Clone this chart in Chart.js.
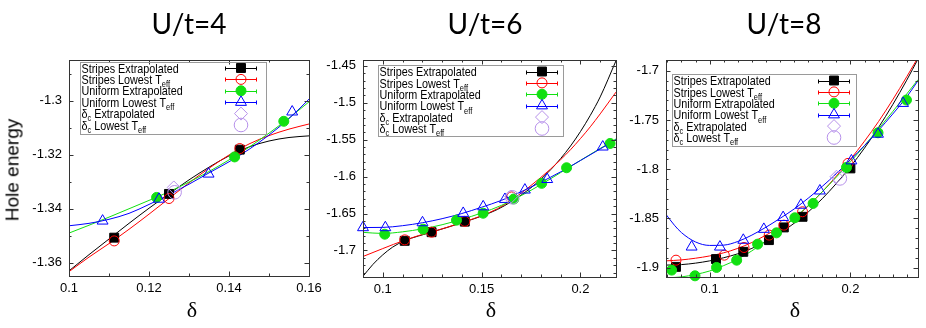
<!DOCTYPE html>
<html><head><meta charset="utf-8">
<script src="https://cdn.jsdelivr.net/npm/chart.js@4.4.1/dist/chart.umd.min.js"></script>
<style>
html,body{margin:0;padding:0;background:#fff;}
#wrap{position:relative;width:926px;height:328px;overflow:hidden;background:#fff;}
#wrap canvas{position:absolute;left:0;top:0;}
.lbl{position:absolute;white-space:nowrap;line-height:1;transform:translate(-50%,-50%);color:#000;}
.title{font-family:Lato,'Open Sans',sans-serif;font-size:28px;}
.delta{font-family:'Liberation Serif','Times New Roman',serif;font-size:22px;}
.ylab{font-family:'Liberation Sans',Arial,sans-serif;font-size:19px;transform:translate(-50%,-50%) rotate(-90deg);}
</style></head>
<body><div id="wrap">
<canvas id="p1" width="926" height="328"></canvas>
<canvas id="p2" width="926" height="328"></canvas>
<canvas id="p3" width="926" height="328"></canvas>
<div class="lbl title" style="left:189px;top:23px">U/t=4</div>
<div class="lbl title" style="left:485px;top:23px">U/t=6</div>
<div class="lbl title" style="left:784px;top:23px">U/t=8</div>
<div class="lbl ylab" style="left:12px;top:170px">Hole energy</div>
<div class="lbl delta" style="left:192px;top:310px">δ</div>
<div class="lbl delta" style="left:491px;top:310px">δ</div>
<div class="lbl delta" style="left:795px;top:310px">δ</div>
</div>
<script>
// ================= DATA =================
// ---- U/t=4 ----
const u4XTicks = [0.1, 0.12, 0.14, 0.16];
const u4XTickLabels = ['0.1', '0.12', '0.14', '0.16'];
const u4YTicks = [-1.3, -1.32, -1.34, -1.36];
const u4YTickLabels = ['-1.3', '-1.32', '-1.34', '-1.36'];
const u4StripesExt = [[0.1113,-1.3508],[0.1250,-1.3346],[0.1427,-1.3182]];
const u4StripesLow = [[0.1113,-1.3520],[0.1250,-1.3363],[0.1427,-1.3178]];
const u4UniformExt = [[0.1219,-1.3359],[0.1414,-1.3209],[0.1537,-1.3077]];
const u4UniformLow = [[0.1084,-1.3446],[0.1225,-1.3365],[0.1349,-1.3272],[0.1558,-1.3042]];
const u4DcExt = [[0.1262,-1.3322]];
const u4DcLow = [[0.1264,-1.3340]];
const u4StripesExtFit = [[0.100,-1.3631],[0.105,-1.3571],[0.110,-1.3513],[0.115,-1.3455],[0.120,-1.3399],[0.125,-1.3346],[0.130,-1.3294],[0.135,-1.3247],[0.140,-1.3205],[0.145,-1.3172],[0.150,-1.3150],[0.155,-1.3137],[0.160,-1.3131]];
const u4StripesLowFit = [[0.100,-1.3634],[0.105,-1.3580],[0.110,-1.3530],[0.115,-1.3477],[0.120,-1.3421],[0.125,-1.3363],[0.130,-1.3305],[0.135,-1.3251],[0.140,-1.3202],[0.145,-1.3161],[0.150,-1.3130],[0.155,-1.3106],[0.160,-1.3087]];
const u4UniformExtFit = [[0.100,-1.3491],[0.105,-1.3462],[0.110,-1.3432],[0.115,-1.3401],[0.120,-1.3370],[0.125,-1.3338],[0.130,-1.3302],[0.135,-1.3263],[0.140,-1.3220],[0.145,-1.3173],[0.150,-1.3121],[0.155,-1.3065],[0.160,-1.3005]];
const u4UniformLowFit = [[0.100,-1.3464],[0.105,-1.3455],[0.110,-1.3440],[0.115,-1.3418],[0.120,-1.3385],[0.125,-1.3349],[0.130,-1.3310],[0.135,-1.3268],[0.140,-1.3227],[0.145,-1.3181],[0.150,-1.3128],[0.155,-1.3067],[0.160,-1.2995]];

// ---- U/t=6 ----
const u6XTicks = [0.1, 0.15, 0.2];
const u6XTickLabels = ['0.1', '0.15', '0.2'];
const u6YTicks = [-1.45, -1.5, -1.55, -1.6, -1.65, -1.7];
const u6YTickLabels = ['-1.45', '-1.5', '-1.55', '-1.6', '-1.65', '-1.7'];
const u6StripesExt = [[0.1111,-1.6870],[0.1247,-1.6753],[0.1415,-1.6610]];
const u6StripesLow = [[0.1111,-1.6857],[0.1247,-1.6753],[0.1415,-1.6606],[0.1652,-1.6275]];
const u6UniformExt = [[0.1010,-1.6780],[0.1204,-1.6712],[0.1373,-1.6590],[0.1508,-1.6496],[0.1663,-1.6303],[0.1804,-1.6091],[0.1930,-1.5880],[0.2150,-1.5551]];
const u6UniformLow = [[0.0900,-1.6690],[0.1013,-1.6690],[0.1201,-1.6623],[0.1407,-1.6496],[0.1508,-1.6407],[0.1618,-1.6307],[0.1719,-1.6180],[0.1832,-1.6037],[0.2113,-1.5597]];
const u6DcExt = [[0.1650,-1.6270]];
const u6DcLow = [[0.1655,-1.6280]];
const u6StripesExtFit = [[0.090,-1.7350],[0.095,-1.7190],[0.100,-1.7060],[0.105,-1.6955],[0.111,-1.6868],[0.118,-1.6805],[0.125,-1.6750],[0.133,-1.6685],[0.1415,-1.6612],[0.150,-1.6535],[0.158,-1.6445],[0.165,-1.6340],[0.170,-1.6250],[0.175,-1.6150],[0.180,-1.6035],[0.185,-1.5905],[0.190,-1.5755],[0.195,-1.5585],[0.200,-1.5390],[0.205,-1.5170],[0.210,-1.4920],[0.218,-1.4430]];
const u6StripesLowFit = [[0.090,-1.7082],[0.100,-1.6975],[0.111,-1.6862],[0.118,-1.6800],[0.125,-1.6748],[0.133,-1.6683],[0.1415,-1.6610],[0.150,-1.6530],[0.158,-1.6435],[0.165,-1.6320],[0.170,-1.6225],[0.175,-1.6120],[0.180,-1.6010],[0.185,-1.5895],[0.190,-1.5770],[0.195,-1.5635],[0.200,-1.5485],[0.205,-1.5325],[0.210,-1.5150],[0.218,-1.4855]];
const u6UniformExtFit = [[0.090,-1.6755],[0.100,-1.6770],[0.110,-1.6748],[0.120,-1.6708],[0.130,-1.6652],[0.140,-1.6578],[0.150,-1.6493],[0.160,-1.6390],[0.170,-1.6258],[0.180,-1.6108],[0.190,-1.5945],[0.200,-1.5780],[0.210,-1.5618],[0.218,-1.5490]];
const u6UniformLowFit = [[0.090,-1.6690],[0.100,-1.6688],[0.110,-1.6665],[0.120,-1.6625],[0.130,-1.6570],[0.140,-1.6500],[0.150,-1.6415],[0.160,-1.6322],[0.170,-1.6205],[0.180,-1.6075],[0.190,-1.5935],[0.200,-1.5782],[0.210,-1.5625],[0.218,-1.5500]];

// ---- U/t=8 ----
const u8XTicks = [0.1, 0.2];
const u8XTickLabels = ['0.1', '0.2'];
const u8YTicks = [-1.7, -1.75, -1.8, -1.85, -1.9];
const u8YTickLabels = ['-1.7', '-1.75', '-1.8', '-1.85', '-1.9'];
const u8StripesExt = [[0.0761,-1.8993],[0.1045,-1.8914],[0.1239,-1.8840],[0.1421,-1.8721],[0.1527,-1.8592],[0.1660,-1.8484],[0.2000,-1.7992]];
const u8StripesLow = [[0.0761,-1.8925],[0.1104,-1.8874],[0.1244,-1.8796],[0.1423,-1.8670],[0.1527,-1.8569],[0.1660,-1.8433],[0.1983,-1.7941]];
const u8UniformExt = [[0.0730,-1.9026],[0.0896,-1.9084],[0.1049,-1.8999],[0.1192,-1.8925],[0.1341,-1.8762],[0.1475,-1.8647],[0.1605,-1.8494],[0.1735,-1.8348],[0.1972,-1.7982],[0.2196,-1.7630],[0.2398,-1.7297]];
const u8UniformLow = [[0.0872,-1.8790],[0.1073,-1.8790],[0.1239,-1.8721],[0.1385,-1.8610],[0.1522,-1.8490],[0.1648,-1.8365],[0.1783,-1.8220],[0.2007,-1.7914],[0.2196,-1.7643],[0.2374,-1.7330]];
const u8DcExt = [[0.1901,-1.8077]];
const u8DcLow = [[0.1925,-1.8094]];
const u8StripesExtFit = [[0.069,-1.8975],[0.080,-1.8970],[0.090,-1.8955],[0.100,-1.8932],[0.110,-1.8900],[0.120,-1.8860],[0.130,-1.8805],[0.140,-1.8735],[0.150,-1.8650],[0.160,-1.8550],[0.170,-1.8435],[0.180,-1.8300],[0.190,-1.8145],[0.200,-1.7975],[0.210,-1.7785],[0.220,-1.7575],[0.230,-1.7345],[0.240,-1.7095],[0.248,-1.6880]];
const u8StripesLowFit = [[0.069,-1.8932],[0.080,-1.8922],[0.090,-1.8905],[0.100,-1.8882],[0.110,-1.8850],[0.120,-1.8805],[0.130,-1.8745],[0.140,-1.8670],[0.150,-1.8590],[0.160,-1.8500],[0.170,-1.8375],[0.180,-1.8230],[0.190,-1.8070],[0.200,-1.7900],[0.210,-1.7715],[0.220,-1.7515],[0.230,-1.7295],[0.240,-1.7060],[0.248,-1.6865]];
const u8UniformExtFit = [[0.069,-1.9105],[0.080,-1.9095],[0.090,-1.9070],[0.100,-1.9035],[0.110,-1.8980],[0.120,-1.8915],[0.130,-1.8830],[0.140,-1.8730],[0.150,-1.8620],[0.160,-1.8500],[0.170,-1.8370],[0.180,-1.8230],[0.190,-1.8080],[0.200,-1.7925],[0.210,-1.7760],[0.220,-1.7590],[0.230,-1.7415],[0.240,-1.7235],[0.248,-1.7090]];
const u8UniformLowFit = [[0.069,-1.8460],[0.075,-1.8570],[0.080,-1.8645],[0.090,-1.8740],[0.100,-1.8775],[0.110,-1.8772],[0.120,-1.8735],[0.130,-1.8670],[0.140,-1.8590],[0.150,-1.8500],[0.160,-1.8405],[0.170,-1.8295],[0.180,-1.8175],[0.190,-1.8045],[0.200,-1.7905],[0.210,-1.7760],[0.220,-1.7605],[0.230,-1.7440],[0.240,-1.7265],[0.248,-1.7100]];

// legend texts: [text, isSubscript]
const legendTexts = [
  [['Stripes Extrapolated', false]],
  [['Stripes Lowest T', false], ['eff', true]],
  [['Uniform Extrapolated', false]],
  [['Uniform Lowest T', false], ['eff', true]],
  [['δ', false], ['c', true], [' Extrapolated', false]],
  [['δ', false], ['c', true], [' Lowest T', false], ['eff', true]]
];

// ================= STYLE =================
const seriesStyle = [
  {color: '#000000', point: 'rect',     r: 6.3, fill: true,  bar: true},
  {color: '#ff0000', point: 'circle',   r: 5.0, fill: false, bar: true},
  {color: '#11e011', point: 'circle',   r: 5.0, fill: true,  bar: true},
  {color: '#0000ff', point: 'triangle', r: 6.3, fill: false, bar: true},
  {color: '#b690ea', point: 'rectRot',  r: 6.5, fill: false, bar: false},
  {color: '#b690ea', point: 'circle',   r: 6.8, fill: false, bar: false}
];
const FONT = "'Liberation Sans', Arial, Helvetica, sans-serif";
Chart.defaults.font.family = FONT;
Chart.defaults.color = '#000';

function minorTicks(lo, hi, step) {
  const out = [];
  const n = Math.round((hi - lo) / step);
  for (let i = 0; i <= n; i++) out.push(+(lo + i * step).toFixed(4));
  return out;
}

const panels = [
  {canvas: 'p1', area: [69, 309, 60, 276], xr: [0.1, 0.16], yr: [-1.365, -1.285],
   xT: u4XTicks, xL: u4XTickLabels, yT: u4YTicks, yL: u4YTickLabels,
   xMinor: minorTicks(0.1, 0.16, 0.01), yMinor: minorTicks(-1.36, -1.29, 0.01),
   pts: [u4StripesExt, u4StripesLow, u4UniformExt, u4UniformLow, u4DcExt, u4DcLow],
   fits: [u4StripesExtFit, u4StripesLowFit, u4UniformExtFit, u4UniformLowFit],
   legend: {x: 80, y: 62, w: 186, h: 72, row0: 68, dy: 11.4, mx: 241}},
  {canvas: 'p2', area: [363, 616, 60, 277], xr: [0.09, 0.218], yr: [-1.736, -1.442],
   xT: u6XTicks, xL: u6XTickLabels, yT: u6YTicks, yL: u6YTickLabels,
   xMinor: minorTicks(0.09, 0.21, 0.01), yMinor: minorTicks(-1.73, -1.45, 0.01),
   pts: [u6StripesExt, u6StripesLow, u6UniformExt, u6UniformLow, u6DcExt, u6DcLow],
   fits: [u6StripesExtFit, u6StripesLowFit, u6UniformExtFit, u6UniformLowFit],
   legend: {x: 378, y: 65, w: 185, h: 71, row0: 71.5, dy: 11.4, mx: 542}},
  {canvas: 'p3', area: [666, 918, 60, 277], xr: [0.069, 0.248], yr: [-1.9096, -1.689],
   xT: u8XTicks, xL: u8XTickLabels, yT: u8YTicks, yL: u8YTickLabels,
   xMinor: minorTicks(0.07, 0.24, 0.01), yMinor: minorTicks(-1.90, -1.70, 0.01),
   pts: [u8StripesExt, u8StripesLow, u8UniformExt, u8UniformLow, u8DcExt, u8DcLow],
   fits: [u8StripesExtFit, u8StripesLowFit, u8UniformExtFit, u8UniformLowFit],
   legend: {x: 672, y: 74, w: 184, h: 72, row0: 80.5, dy: 11.4, mx: 834}}
];

function drawMarker(ctx, st, x, y) {
  ctx.save();
  ctx.strokeStyle = st.color;
  ctx.fillStyle = st.color;
  ctx.lineWidth = 1;
  const r = st.r;
  ctx.beginPath();
  if (st.point === 'rect') {
    const s = Math.SQRT1_2 * r;
    ctx.rect(x - s, y - s, 2 * s, 2 * s);
  } else if (st.point === 'circle') {
    ctx.arc(x, y, r, 0, Math.PI * 2);
  } else if (st.point === 'triangle') {
    for (let k = 0; k < 3; k++) {
      const a = -Math.PI / 2 + k * 2 * Math.PI / 3;
      const px = x + r * Math.cos(a), py = y + r * Math.sin(a);
      if (k === 0) ctx.moveTo(px, py); else ctx.lineTo(px, py);
    }
    ctx.closePath();
  } else if (st.point === 'rectRot') {
    ctx.moveTo(x - r, y); ctx.lineTo(x, y - r); ctx.lineTo(x + r, y); ctx.lineTo(x, y + r);
    ctx.closePath();
  }
  if (st.fill) ctx.fill();
  ctx.stroke();
  ctx.restore();
}

const framePlugin = {
  id: 'gnuFrame',
  afterDraw(chart, args, opts) {
    const p = opts.panel;
    const ctx = chart.ctx;
    const {left, right, top, bottom} = chart.chartArea;
    const xs = chart.scales.x, ys = chart.scales.y;
    ctx.save();
    ctx.strokeStyle = '#333';
    ctx.lineWidth = 1;
    ctx.beginPath();
    const tickX = (v, len) => {
      const px = Math.round(xs.getPixelForValue(v)) + 0.5;
      if (px < left + 1 || px > right - 1) return;
      ctx.moveTo(px, bottom); ctx.lineTo(px, bottom - len);
      ctx.moveTo(px, top); ctx.lineTo(px, top + len);
    };
    const tickY = (v, len) => {
      const py = Math.round(ys.getPixelForValue(v)) + 0.5;
      if (py < top + 1 || py > bottom - 1) return;
      ctx.moveTo(left, py); ctx.lineTo(left + len, py);
      ctx.moveTo(right, py); ctx.lineTo(right - len, py);
    };
    p.xMinor.forEach(v => tickX(v, 2.5));
    p.yMinor.forEach(v => tickY(v, 2.5));
    p.xT.forEach(v => tickX(v, 4.5));
    p.yT.forEach(v => tickY(v, 4.5));
    ctx.stroke();
    ctx.strokeStyle = '#333';
    ctx.strokeRect(left + 0.5, top + 0.5, right - left, bottom - top);

    const L = p.legend;
    ctx.strokeStyle = '#9a9a9a';
    ctx.lineWidth = 1;
    ctx.strokeRect(L.x + 0.5, L.y + 0.5, L.w, L.h);
    legendTexts.forEach((segs, i) => {
      const cy = L.row0 + i * L.dy;
      let tx = L.x + 1.5;
      segs.forEach(([t, sub]) => {
        ctx.save();
        ctx.fillStyle = '#000';
        ctx.textBaseline = 'alphabetic';
        ctx.font = (sub ? '9px ' : '13px ') + FONT;
        const w = ctx.measureText(t).width * 0.83;
        ctx.translate(tx, cy + 4.6 + (sub ? 3.2 : 0));
        ctx.scale(0.83, 1);
        ctx.fillText(t, 0, 0);
        ctx.restore();
        tx += w;
      });
      const st = seriesStyle[i];
      if (st.bar) {
        ctx.save();
        ctx.strokeStyle = st.color;
        ctx.lineWidth = 1;
        ctx.beginPath();
        const yy = Math.round(cy) + 0.5;
        ctx.moveTo(L.mx - 16, yy); ctx.lineTo(L.mx + 16, yy);
        ctx.moveTo(L.mx - 16 + 0.5, yy - 2); ctx.lineTo(L.mx - 16 + 0.5, yy + 2);
        ctx.moveTo(L.mx + 16 - 0.5, yy - 2); ctx.lineTo(L.mx + 16 - 0.5, yy + 2);
        ctx.stroke();
        ctx.restore();
      }
      drawMarker(ctx, st, L.mx, cy);
    });
    ctx.restore();
  }
};

panels.forEach(p => {
  const datasets = [];
  const toXY = arr => arr.map(([x, y]) => ({x, y}));
  p.pts.forEach((arr, i) => {
    const st = seriesStyle[i];
    datasets.push({
      data: toXY(arr), showLine: false, clip: false,
      pointStyle: st.point, pointRadius: st.r, pointHoverRadius: st.r,
      pointBorderWidth: 1, borderColor: st.color,
      pointBorderColor: st.color,
      pointBackgroundColor: st.fill ? st.color : 'rgba(0,0,0,0)',
      backgroundColor: st.fill ? st.color : 'rgba(0,0,0,0)',
      order: 5 - i
    });
  });
  p.fits.forEach((arr, i) => {
    const st = seriesStyle[i];
    datasets.push({
      data: toXY(arr), showLine: true, clip: 0,
      pointRadius: 0, pointHoverRadius: 0,
      borderColor: st.color, borderWidth: 1,
      cubicInterpolationMode: 'monotone', fill: false,
      order: 20 - i
    });
  });
  const [l, r, t, b] = p.area;
  const axisW = l, axisH = 328 - b;
  new Chart(document.getElementById(p.canvas), {
    type: 'scatter',
    data: {datasets},
    plugins: [framePlugin],
    options: {
      responsive: false, animation: false, events: [],
      layout: {padding: {left: 0, right: 926 - r, top: t, bottom: 0}},
      plugins: {legend: {display: false}, tooltip: {enabled: false}, title: {display: false},
                gnuFrame: {panel: p}},
      scales: {
        x: {type: 'linear', min: p.xr[0], max: p.xr[1],
            afterFit: s => { s.height = axisH; s.paddingLeft = 0; s.paddingRight = 0; },
            afterBuildTicks: s => { s.ticks = p.xT.map(v => ({value: v})); },
            ticks: {callback: (v, i) => p.xL[i], font: {size: 13}, color: '#000',
                    padding: 5, maxRotation: 0, minRotation: 0, autoSkip: false},
            grid: {display: false, drawTicks: false}, border: {display: false}},
        y: {type: 'linear', min: p.yr[0], max: p.yr[1],
            afterFit: s => { s.width = axisW; s.paddingTop = 0; s.paddingBottom = 0; },
            afterBuildTicks: s => { s.ticks = p.yT.map(v => ({value: v})); },
            ticks: {callback: (v, i) => p.yL[i], font: {size: 13}, color: '#000',
                    padding: 7, autoSkip: false},
            grid: {display: false, drawTicks: false}, border: {display: false}}
      }
    }
  });
});
</script>
</body></html>
